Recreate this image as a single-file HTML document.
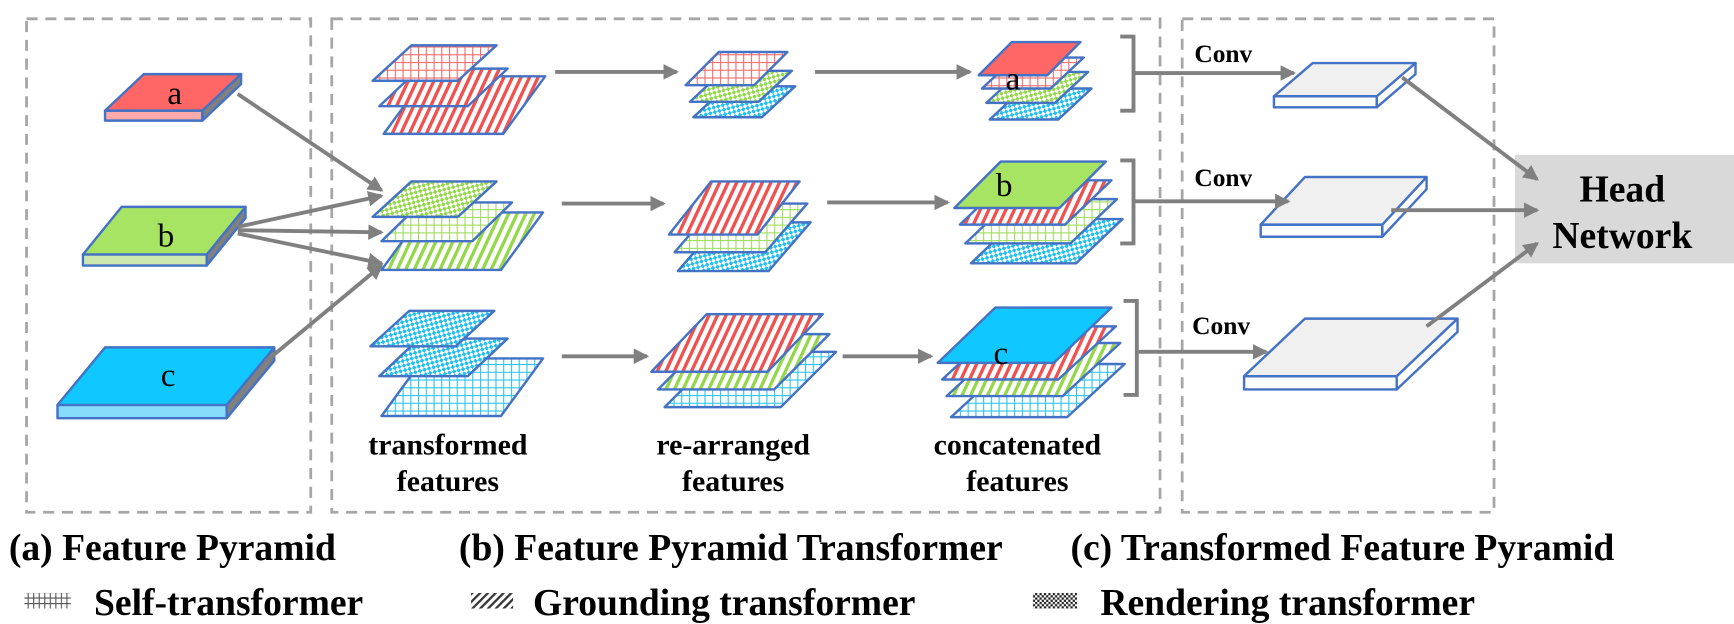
<!DOCTYPE html>
<html><head><meta charset="utf-8"><style>
html,body{margin:0;padding:0;background:#fff;}
svg{display:block;}
text{font-family:"Liberation Serif",serif;}
</style></head><body>
<svg id="s" width="1734" height="624" viewBox="0 0 1568 564" preserveAspectRatio="none" xmlns="http://www.w3.org/2000/svg">
<defs>
<pattern id="gr" width="7" height="7" patternUnits="userSpaceOnUse"><rect width="7" height="7" fill="#fff"/><path d="M0 0.5H7M0.5 0V7" stroke="#f46a6a" stroke-width="1"/></pattern>
<pattern id="gg" width="7" height="7" patternUnits="userSpaceOnUse"><rect width="7" height="7" fill="#fff"/><path d="M0 0.5H7M0.5 0V7" stroke="#9edb5a" stroke-width="1"/></pattern>
<pattern id="gb" width="7" height="7" patternUnits="userSpaceOnUse"><rect width="7" height="7" fill="#fff"/><path d="M0 0.5H7M0.5 0V7" stroke="#2bc4f2" stroke-width="1"/></pattern>
<pattern id="sr" width="7" height="7" patternUnits="userSpaceOnUse" patternTransform="rotate(25)"><rect width="7" height="7" fill="#fff"/><rect width="3" height="7" fill="#f05050"/></pattern>
<pattern id="sg" width="7" height="7" patternUnits="userSpaceOnUse" patternTransform="rotate(25)"><rect width="7" height="7" fill="#fff"/><rect width="3" height="7" fill="#94d84a"/></pattern>
<pattern id="cg" width="6" height="6" patternUnits="userSpaceOnUse" patternTransform="rotate(30)"><rect width="6" height="6" fill="#fff"/><rect width="3" height="3" fill="#94d84a"/><rect x="3" y="3" width="3" height="3" fill="#94d84a"/></pattern>
<pattern id="cb" width="6" height="6" patternUnits="userSpaceOnUse" patternTransform="rotate(30)"><rect width="6" height="6" fill="#fff"/><rect width="3" height="3" fill="#22bff0"/><rect x="3" y="3" width="3" height="3" fill="#22bff0"/></pattern>
<pattern id="lg" width="5" height="5" patternUnits="userSpaceOnUse"><rect width="5" height="5" fill="#fff"/><path d="M0 0.5H5M0.5 0V5" stroke="#555" stroke-width="1"/></pattern>
<pattern id="ls" width="5" height="5" patternUnits="userSpaceOnUse" patternTransform="rotate(45)"><rect width="5" height="5" fill="#fff"/><rect width="2" height="5" fill="#333"/></pattern>
<pattern id="lc" width="4" height="4" patternUnits="userSpaceOnUse"><rect width="4" height="4" fill="#fff"/><rect width="2" height="2" fill="#222"/><rect x="2" y="2" width="2" height="2" fill="#222"/></pattern>
<marker id="ah2" markerWidth="14" markerHeight="14" refX="12" refY="7" orient="auto" markerUnits="userSpaceOnUse"><path d="M0 0L14 7L0 14Z" fill="#808080"/></marker>
</defs>
<g fill="none" stroke="#a6a6a6" stroke-width="2.5" stroke-dasharray="10,7">
<rect x="24" y="17" width="257" height="446"/>
<rect x="300" y="17" width="749" height="446"/>
<rect x="1069" y="17" width="282" height="446"/>
</g>
<rect x="1370" y="140" width="198" height="98" fill="#d9d9d9"/>
<g id="shapes"></g>
<g id="arrows" stroke="#808080" stroke-width="3.5" fill="none"></g>
<text x="1467" y="182" font-size="34" font-weight="bold" text-anchor="middle">Head</text>
<text x="1467" y="224" font-size="34" font-weight="bold" text-anchor="middle">Network</text>
<g font-size="30">
<text x="158" y="94" text-anchor="middle">a</text>
<text x="150" y="223" text-anchor="middle">b</text>
<text x="152" y="349" text-anchor="middle">c</text>
<text x="916" y="81" text-anchor="middle">a</text>
<text x="908" y="177" text-anchor="middle">b</text>
<text x="905" y="329" text-anchor="middle">c</text>
</g>
<g font-size="23" font-weight="bold">
<text x="1080" y="56">Conv</text>
<text x="1080" y="168">Conv</text>
<text x="1078" y="302">Conv</text>
</g>
<g font-size="27" font-weight="bold" text-anchor="middle">
<text x="405" y="411">transformed</text><text x="405" y="444">features</text>
<text x="663" y="411">re-arranged</text><text x="663" y="444">features</text>
<text x="920" y="411">concatenated</text><text x="920" y="444">features</text>
</g>
<g font-size="34" font-weight="bold">
<text x="8" y="506">(a) Feature Pyramid</text>
<text x="415" y="506">(b) Feature Pyramid Transformer</text>
<text x="968" y="506">(c) Transformed Feature Pyramid</text>
<text x="85" y="556">Self-transformer</text>
<text x="482" y="556">Grounding transformer</text>
<text x="995" y="556">Rendering transformer</text>
</g>
<rect x="22" y="536" width="42" height="14" fill="url(#lg)"/>
<rect x="426" y="536" width="38" height="14" fill="url(#ls)"/>
<rect x="934" y="536" width="40" height="14" fill="url(#lc)"/>
<script>
var S=document.getElementById('shapes'),A=document.getElementById('arrows');
var B='#4472c4';
function poly(pts,fill,sw){var p=document.createElementNS('http://www.w3.org/2000/svg','polygon');p.setAttribute('points',pts.map(function(q){return q.join(',')}).join(' '));p.setAttribute('fill',fill);p.setAttribute('stroke',B);p.setAttribute('stroke-width',sw||2.2);p.setAttribute('stroke-linejoin','round');S.appendChild(p);}
function layer(x,yb,w,h,s,f){poly([[x,yb],[x+w,yb],[x+w+s,yb-h],[x+s,yb-h]],f);}
function slab(x,yb,w,h,s,t,top,front,side){poly([[x,yb],[x+w,yb],[x+w,yb+t],[x,yb+t]],front);poly([[x+w,yb],[x+w+s,yb-h],[x+w+s,yb-h+t],[x+w,yb+t]],side);layer(x,yb,w,h,s,top);}
function arr(x1,y1,x2,y2){var l=document.createElementNS('http://www.w3.org/2000/svg','line');l.setAttribute('x1',x1);l.setAttribute('y1',y1);l.setAttribute('x2',x2);l.setAttribute('y2',y2);l.setAttribute('marker-end','url(#ah2)');A.appendChild(l);}
function path(d){var p=document.createElementNS('http://www.w3.org/2000/svg','path');p.setAttribute('d',d);A.appendChild(p);}
function stack(L){for(var i=L.length-1;i>=0;i--){var a=L[i];layer(a[0],a[1],a[2],a[3],a[4],a[5]);}}
slab(95,100,88,33,35,9,'#ff6666','#ffaaaa','#808080');
slab(75,230,112,43,35,10,'#a8e463','#cde9b0','#808080');
slab(52,366,153,52,43,12,'#10c8ff','#88dcfb','#808080');
stack([[337,73,77,32,35,'url(#gr)'],[343,96,80,34,36,'url(#sr)'],[347,121,108,52,38,'url(#sr)']]);
stack([[337,196,77,32,35,'url(#cg)'],[345,218,82,35,36,'url(#gg)'],[345,244,108,52,38,'url(#sg)']]);
stack([[335,313,77,32,35,'url(#cb)'],[343,340,80,34,36,'url(#cb)'],[345,376,108,52,38,'url(#gb)']]);
stack([[620,77,62,30,30,'url(#gr)'],[624,92,62,28,30,'url(#cg)'],[627,106,62,28,30,'url(#cb)']]);
stack([[605,212,80,48,38,'url(#sr)'],[610,228,82,44,38,'url(#gg)'],[613,245,82,44,38,'url(#cb)']]);
stack([[589,336,105,52,50,'url(#sr)'],[595,352,105,50,50,'url(#sg)'],[601,368,105,50,50,'url(#gb)']]);
stack([[885,68,62,30,30,'#ff6666'],[888,80,62,28,30,'url(#gr)'],[892,93,62,28,30,'url(#cg)'],[895,108,62,28,30,'url(#cb)']]);
stack([[863,188,95,42,42,'#a8e463'],[868,203,95,40,42,'url(#sr)'],[873,220,95,40,42,'url(#gg)'],[878,238,95,40,42,'url(#cb)']]);
stack([[848,328,105,50,52,'#10c8ff'],[852,343,105,48,52,'url(#sr)'],[856,358,105,48,52,'url(#sg)'],[860,377,105,48,52,'url(#gb)']]);
slab(1152,87,93,30,35,10,'#f0f0f0','#fff','#fff');
slab(1140,203,110,43,40,11,'#f0f0f0','#fff','#fff');
slab(1125,340,138,52,55,12,'#f0f0f0','#fff','#fff');
arr(215,85,345,172);arr(215,205,345,177);arr(215,208,345,210);arr(215,211,345,238);arr(240,327,345,240);
arr(502,65,612,65);arr(737,65,877,65);
arr(508,184,600,184);arr(748,183,857,183);
arr(508,322,585,322);arr(762,322,842,322);
path('M1013,33H1025V100H1013');path('M1013,145H1025V220H1013');path('M1016,272H1028V357H1016');
arr(1025,66,1170,66);arr(1025,182,1165,182);arr(1028,318,1145,318);
arr(1268,70,1390,162);arr(1258,190,1390,190);arr(1290,295,1390,220);
</script>
</svg>
</body></html>
